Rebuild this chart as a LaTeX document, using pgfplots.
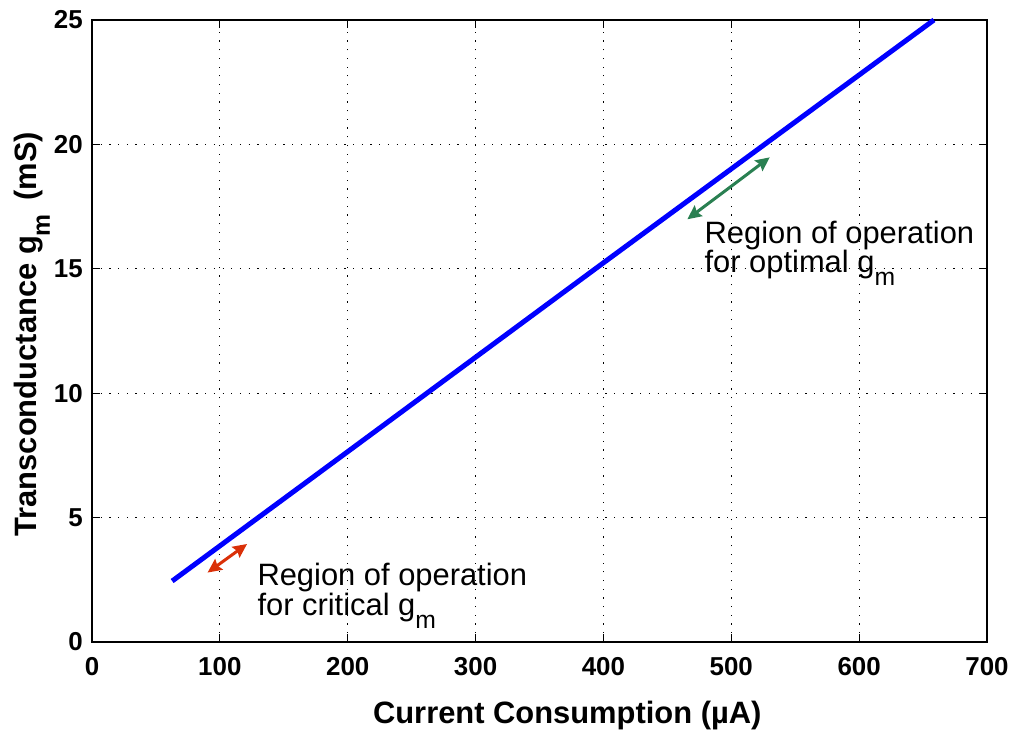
\documentclass[border=0pt]{standalone}
\usepackage{fontspec}
\setmainfont{Liberation Sans}
\usepackage{graphicx}
\usepackage{pgfplots}
\pgfplotsset{compat=1.18}
\usetikzlibrary{arrows.meta}
\definecolor{lineblue}{RGB}{0,0,255}
\definecolor{arrred}{RGB}{218,48,8}
\definecolor{arrgreen}{RGB}{42,128,82}
\newcommand{\msub}[1]{\raisebox{-0.42em}{\scalebox{0.8}{#1}}}
\begin{document}
\begin{tikzpicture}
\useasboundingbox (-92bp,-94bp) rectangle (922bp,642bp);
\begin{axis}[
  at={(0,0)}, anchor=south west,
  scale only axis, width=895bp, height=622bp,
  xmin=0, xmax=700, ymin=0, ymax=25,
  xtick={0,100,...,700}, ytick={0,5,...,25},
  grid=major,
  grid style={black, line width=0.9bp, dash pattern=on 1.2bp off 7.5bp},
  axis line style={black, line width=1.1bp},
  tick style={black, line width=0.9bp},
  major tick length=8bp,
  tick align=inside,
  /pgf/number format/assume math mode=true,
  tick label style={font=\fontsize{26}{30}\selectfont\bfseries, inner sep=0pt},
  xticklabel style={anchor=north, yshift=-15bp},
  yticklabel style={anchor=east, xshift=-9bp},
  xlabel={Current Consumption (µA)},
  ylabel={Transconductance g\msub{m}\, (mS)},
  label style={font=\fontsize{31}{36}\selectfont\bfseries, inner sep=0pt},
  xlabel style={at={([yshift=-81bp]axis description cs:0.531,0)}, anchor=base},
  ylabel style={at={([xshift=-55bp]axis description cs:0,0.495)}, anchor=base},
  clip=false,
]
\addplot[lineblue, line width=5bp] coordinates {
  (62.7,2.45) (200,7.65) (400,15.24) (658.5,25)
};
\draw[arrred, line width=3bp, {Stealth[length=14bp,width=13bp,inset=2bp]}-{Stealth[length=14bp,width=13bp,inset=2bp]}]
  (axis cs:90.4,2.79) -- (axis cs:121.3,3.94);
\draw[arrgreen, line width=3bp, {Stealth[length=14bp,width=13bp,inset=2bp]}-{Stealth[length=14bp,width=13bp,inset=2bp]}]
  (axis cs:465.6,16.99) -- (axis cs:530.1,19.48);
\node[anchor=base west, inner sep=0pt, align=left, font=\fontsize{31}{29}\selectfont] at (axis cs:479,14.87) {Region of operation\\for optimal g\msub{m}};
\node[anchor=base west, inner sep=0pt, align=left, font=\fontsize{31}{27}\selectfont] at (axis cs:129.3,1.08) {Region of operation\\for critical g\msub{m}};
\end{axis}
\end{tikzpicture}
\end{document}
